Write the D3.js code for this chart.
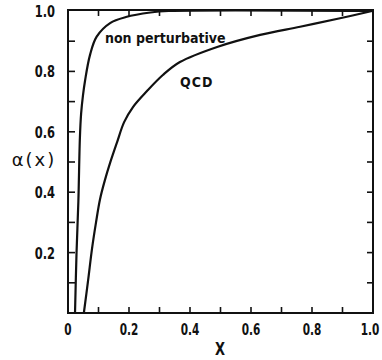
<!DOCTYPE html>
<html lang="en">
<head>
  <meta charset="utf-8"/>
  <title>alpha(x)</title>
  <style>
    body { margin: 0; background: #fff; }
    svg text {
      font-family: "Liberation Sans Narrow", "DejaVu Sans Condensed", "Arial Narrow", sans-serif;
      font-weight: bold;
      fill: #111;
    }
  </style>
</head>
<body>

<div id="chart"></div>

<script src="https://cdn.jsdelivr.net/npm/d3@7/dist/d3.min.js"></script>

<script>

  // curves
  let nonPertX = [0.023, 0.028, 0.034, 0.039, 0.043, 0.049, 0.056, 0.072, 0.094, 0.138, 0.19, 0.27, 0.33, 1.0];
  let nonPertA = [0, 0.2, 0.37, 0.58, 0.66, 0.72, 0.77, 0.854, 0.915, 0.96, 0.98, 0.995, 1.0, 1.0];

  let qcdX = [0.052, 0.066, 0.079, 0.092, 0.105, 0.121, 0.138, 0.161, 0.184, 0.213, 0.259, 0.311, 0.367, 0.489, 0.630, 0.761, 0.892, 0.997];
  let qcdA = [0, 0.109, 0.215, 0.301, 0.377, 0.440, 0.497, 0.566, 0.632, 0.682, 0.735, 0.788, 0.831, 0.881, 0.921, 0.948, 0.976, 1.0];

  let tickValues = d3.range(0, 1.0001, 0.1);
  let xLabels = ['0', '0.2', '0.4', '0.6', '0.8', '1.0'];
  let yLabels = ['0.2', '0.4', '0.6', '0.8', '1.0'];

  let width = 382, height = 360;
  let plotLeft = 68, plotRight = 373, plotTop = 11, plotBottom = 313;

  let x = d3.scaleLinear().domain([0, 1]).range([plotLeft, plotRight]);
  let y = d3.scaleLinear().domain([0, 1]).range([plotBottom, plotTop]);

  let svg = d3.select('#chart')
    .append('svg')
    .attr('width', width)
    .attr('height', height);

  // frame
  svg.append('rect')
    .attr('x', plotLeft)
    .attr('y', plotTop - 1)
    .attr('width', plotRight - plotLeft)
    .attr('height', plotBottom - plotTop + 1)
    .attr('fill', 'none')
    .attr('stroke', '#111')
    .attr('stroke-width', 2);

  // inward ticks on all four sides
  let ticks = svg.append('g').attr('stroke', '#111').attr('stroke-width', 1.6);
  tickValues.slice(1, -1).forEach(function (v) {
    ticks.append('line').attr('x1', x(v)).attr('x2', x(v)).attr('y1', plotBottom).attr('y2', plotBottom - 6);
    ticks.append('line').attr('x1', x(v)).attr('x2', x(v)).attr('y1', plotTop - 1).attr('y2', plotTop + 5);
    ticks.append('line').attr('y1', y(v)).attr('y2', y(v)).attr('x1', plotLeft).attr('x2', plotLeft + 7);
    ticks.append('line').attr('y1', y(v)).attr('y2', y(v)).attr('x1', plotRight).attr('x2', plotRight - 6);
  });

  // tick labels (narrow, tall digits like the original)
  svg.append('g')
    .selectAll('text')
    .data(xLabels)
    .join('text')
    .attr('transform', d => `translate(${Math.min(x(+d), 370)},${plotBottom + 22}) scale(0.78,1)`)
    .attr('text-anchor', 'middle')
    .attr('font-size', 15)
    .text(d => d);

  svg.append('g')
    .selectAll('text')
    .data(yLabels)
    .join('text')
    .attr('transform', d => `translate(55,${y(+d) + 6}) scale(0.85,1)`)
    .attr('text-anchor', 'end')
    .attr('font-size', 15)
    .text(d => d);

  // axis titles
  svg.append('text')
    .attr('x', 34)
    .attr('y', 166)
    .attr('text-anchor', 'middle')
    .attr('font-size', 18)
    .style('font-weight', 'normal')
    .style('font-family', '"DejaVu Sans", sans-serif')
    .attr('letter-spacing', 2)
    .text('α(x)');

  svg.append('text')
    .attr('transform', 'translate(220,355) scale(0.85,1)')
    .attr('text-anchor', 'middle')
    .attr('font-size', 17)
    .text('X');

  // curves
  let line = d3.line()
    .x(d => x(d[0]))
    .y(d => y(d[1]))
    .curve(d3.curveCatmullRom.alpha(0.5));

  let series = [
    d3.zip(nonPertX, nonPertA),
    d3.zip(qcdX, qcdA)
  ];

  svg.append('g')
    .selectAll('path')
    .data(series)
    .join('path')
    .attr('d', line)
    .attr('fill', 'none')
    .attr('stroke', '#111')
    .attr('stroke-width', 2.2);

  // curve labels
  svg.append('text')
    .attr('x', 105)
    .attr('y', 43)
    .attr('font-size', 14)
    .text('non perturbative');

  svg.append('text')
    .attr('x', 180)
    .attr('y', 87)
    .attr('font-size', 14)
    .attr('letter-spacing', 1)
    .text('QCD');

</script>

</body>
</html>
